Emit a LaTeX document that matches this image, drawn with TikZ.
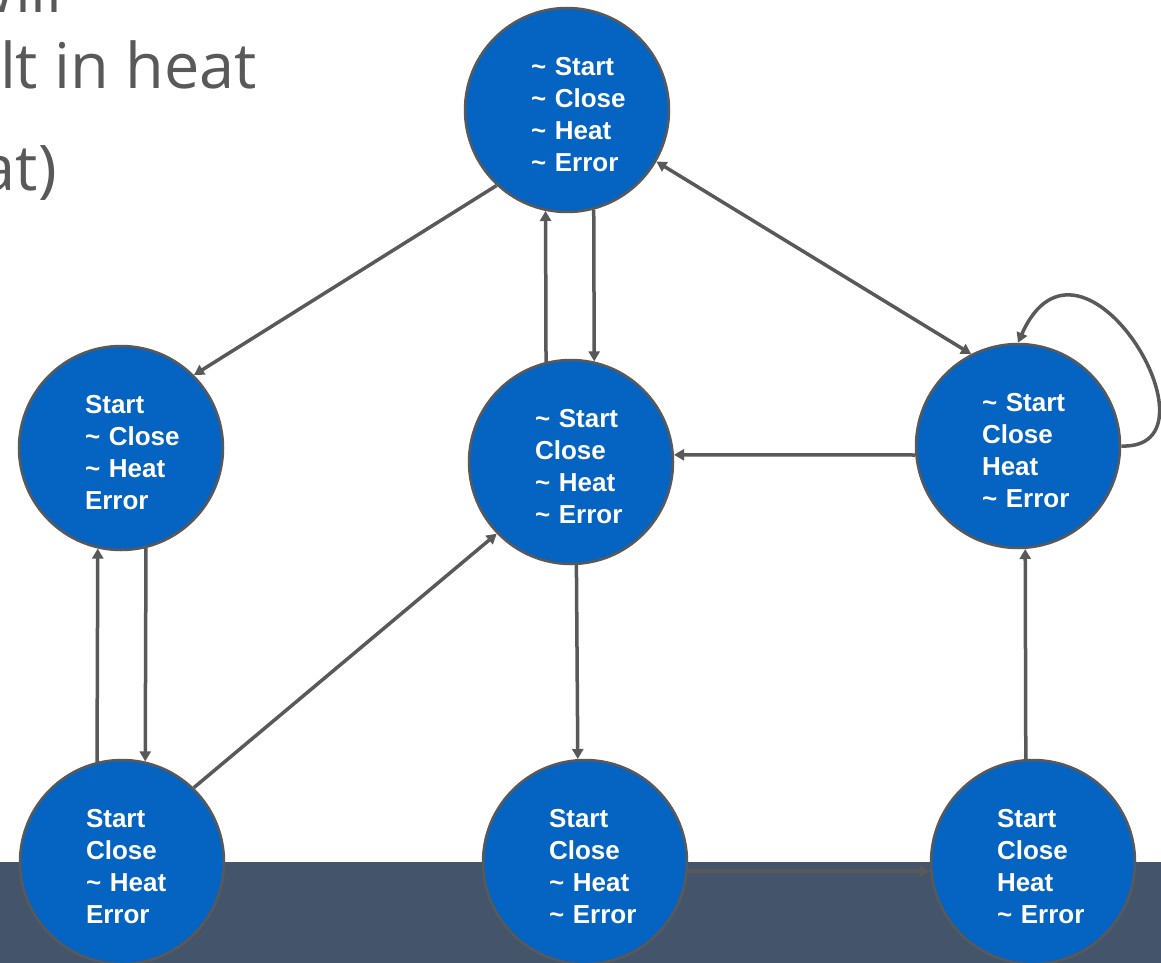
\documentclass[tikz,border=0pt]{standalone}
\usepackage{fontspec}
\setmainfont{Liberation Sans}
\newfontfamily\bodyfont{Open Sans}
\usepackage{xcolor}
\usepackage{tikz}
\usetikzlibrary{arrows.meta}
\definecolor{stateblue}{HTML}{0563C1}
\definecolor{edgegrey}{HTML}{595959}
\definecolor{footbar}{HTML}{44546A}
\newcommand{\offsym}{\textasciitilde~}
\hyphenpenalty=10000
\exhyphenpenalty=10000
\hbadness=10000
\hfuzz=100pt

\begin{document}
\begin{tikzpicture}[x=1pt, y=-1pt,
    state/.style={circle, draw=edgegrey, line width=2.5pt, fill=stateblue,
                  minimum size=204pt, inner sep=0pt, text=white, text width=72pt,
                  align=left, font=\bfseries\fontsize{26}{32}\selectfont,
                  execute at begin node={\rule{0pt}{27pt}}},
    arr/.style={-{Triangle[length=10pt,width=11pt]}, line width=3.5pt, draw=edgegrey},
    both/.style={{Triangle[length=10pt,width=11pt]}-{Triangle[length=10pt,width=11pt]},
                 line width=3.5pt, draw=edgegrey},
    slide/.style={anchor=base east, text=edgegrey, inner sep=0pt,
                  font=\bodyfont\fontsize{63}{76}\selectfont}
  ]
    \useasboundingbox (0,0) rectangle (1161,963);
    \fill[footbar] (0,862) rectangle (1161,963);
    \node[slide] (line1) at (63,13)  {will};
    \node[slide] (line2) at (257,89) {lt in heat};
    \node[slide] (line3) at (57,190) {at)};

    \node[state] (idle)    at (567,110) {\offsym Start\\\offsym Close\\\offsym Heat\\\offsym Error};
    \node[state] (err)     at (121,448) {Start\\\offsym Close\\\offsym Heat\\Error};
    \node[state] (closed)  at (571,462) {\offsym Start\\Close\\\offsym Heat\\\offsym Error};
    \node[state] (heating) at (1018,446) {\offsym Start\\Close\\Heat\\\offsym Error};
    \node[state] (errcl)   at (122,862) {Start\\Close\\\offsym Heat\\Error};
    \node[state] (started) at (585,862) {Start\\Close\\\offsym Heat\\\offsym Error};
    \node[state] (startht) at (1033,862) {Start\\Close\\Heat\\\offsym Error};

    \draw[arr] (idle.227) -- (err.45);
    \draw[arr] (closed.104) -- (idle.258);
    \draw[arr] (idle.285) -- (closed.77);
    \draw[both] (idle.330) -- (heating.117);
    \draw[arr] (heating.185) -- (closed.4);
    \draw[arr] (heating.0) .. controls +(108,4) and +(63,-142) .. (heating.90);
    \draw[arr] (errcl.104) -- (err.257);
    \draw[arr] (err.284) -- (errcl.77);
    \draw[arr] (errcl.46) -- (closed.224);
    \draw[arr] (closed.273) -- (started.94);
    \draw[arr] (started.355) -- (startht.185);
    \draw[arr] (startht.94) -- (heating.274);
  \end{tikzpicture}
\end{document}
